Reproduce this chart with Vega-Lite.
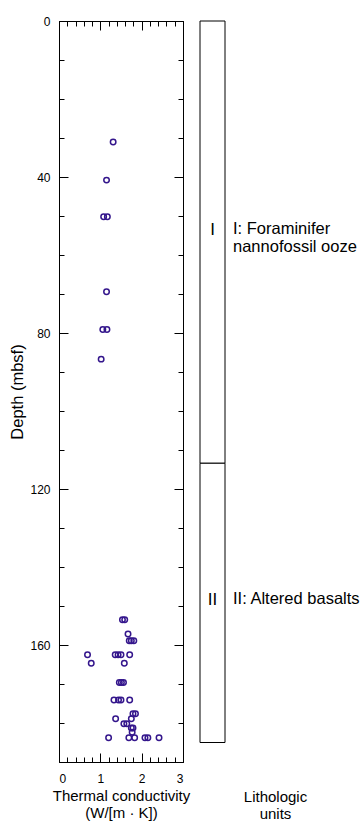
{
  "$schema": "https://vega.github.io/schema/vega-lite/v6.json",
  "padding": {"left": 9, "top": 15, "right": 0, "bottom": 0},
  "background": "white",
  "spacing": 9,
  "config": {
    "view": {"stroke": null},
    "font": "Liberation Sans",
    "axis": {
      "grid": false,
      "domainColor": "#000000",
      "tickColor": "#000000",
      "labelColor": "#000000",
      "titleColor": "#000000",
      "labelFont": "Liberation Sans",
      "titleFont": "Liberation Sans",
      "titleFontWeight": "normal",
      "labelFontSize": 12,
      "titleFontSize": 15,
      "domainWidth": 1,
      "tickWidth": 1
    }
  },
  "datasets": {
    "tc": [
      {"conductivity": 1.31, "depth": 31.0},
      {"conductivity": 1.15, "depth": 40.8},
      {"conductivity": 1.08, "depth": 50.2},
      {"conductivity": 1.17, "depth": 50.2},
      {"conductivity": 1.15, "depth": 69.4},
      {"conductivity": 1.06, "depth": 79.1},
      {"conductivity": 1.16, "depth": 79.1},
      {"conductivity": 1.02, "depth": 86.7},
      {"conductivity": 1.535, "depth": 153.5},
      {"conductivity": 1.59, "depth": 153.5},
      {"conductivity": 1.67, "depth": 157.2},
      {"conductivity": 1.70, "depth": 158.9},
      {"conductivity": 1.75, "depth": 158.9},
      {"conductivity": 1.81, "depth": 158.9},
      {"conductivity": 0.69, "depth": 162.5},
      {"conductivity": 1.36, "depth": 162.5},
      {"conductivity": 1.43, "depth": 162.5},
      {"conductivity": 1.50, "depth": 162.5},
      {"conductivity": 1.71, "depth": 162.5},
      {"conductivity": 0.78, "depth": 164.7},
      {"conductivity": 1.58, "depth": 164.7},
      {"conductivity": 1.46, "depth": 169.6},
      {"conductivity": 1.51, "depth": 169.6},
      {"conductivity": 1.56, "depth": 169.6},
      {"conductivity": 1.33, "depth": 174.1},
      {"conductivity": 1.44, "depth": 174.1},
      {"conductivity": 1.50, "depth": 174.1},
      {"conductivity": 1.71, "depth": 174.1},
      {"conductivity": 1.79, "depth": 177.6},
      {"conductivity": 1.85, "depth": 177.6},
      {"conductivity": 1.37, "depth": 178.9},
      {"conductivity": 1.75, "depth": 178.9},
      {"conductivity": 1.57, "depth": 180.2},
      {"conductivity": 1.64, "depth": 180.2},
      {"conductivity": 1.75, "depth": 181.3},
      {"conductivity": 1.79, "depth": 181.3},
      {"conductivity": 1.77, "depth": 182.4},
      {"conductivity": 1.20, "depth": 183.8},
      {"conductivity": 1.69, "depth": 183.8},
      {"conductivity": 1.83, "depth": 183.8},
      {"conductivity": 2.08, "depth": 183.8},
      {"conductivity": 2.15, "depth": 183.8},
      {"conductivity": 2.42, "depth": 183.8}
    ],
    "lith": [
      {"unit": "I", "top": 0, "bottom": 113.4, "label_depth": 53.6, "label": ["I: Foraminifer", "nannofossil ooze"]},
      {"unit": "II", "top": 113.4, "bottom": 185.0, "label_depth": 148.4, "label": ["II: Altered basalts"]}
    ]
  },
  "hconcat": [
    {
      "width": 124,
      "height": 741,
      "data": {"name": "tc"},
      "resolve": {"axis": {"x": "independent", "y": "independent"}},
      "layer": [
        {
          "mark": {"type": "point", "opacity": 0},
          "encoding": {
            "x": {"field": "conductivity", "type": "quantitative", "scale": {"domain": [0, 3], "nice": false, "zero": false},
              "axis": {"orient": "top", "values": [0, 0.2, 0.4, 0.6, 0.8, 1, 1.2, 1.4, 1.6, 1.8, 2, 2.2, 2.4, 2.6, 2.8, 3], "tickSize": -5, "labels": false, "domain": false, "title": null}},
            "y": {"field": "depth", "type": "quantitative", "scale": {"domain": [0, 190], "nice": false, "reverse": true},
              "axis": {"orient": "right", "values": [0, 10, 20, 30, 40, 50, 60, 70, 80, 90, 100, 110, 120, 130, 140, 150, 160, 170, 180, 190], "tickSize": -5, "labels": false, "domain": false, "title": null}}
          }
        },
        {
          "mark": {"type": "point", "opacity": 0},
          "encoding": {
            "x": {"field": "conductivity", "type": "quantitative",
              "axis": {"orient": "top", "values": [0, 1, 2, 3], "tickSize": -9, "labels": false, "domain": true, "title": null}},
            "y": {"field": "depth", "type": "quantitative",
              "axis": {"orient": "right", "values": [0, 40, 80, 120, 160], "tickSize": -9, "labels": false, "domain": true, "title": null}}
          }
        },
        {
          "mark": {"type": "point", "opacity": 0},
          "encoding": {
            "x": {"field": "conductivity", "type": "quantitative",
              "axis": {"orient": "bottom", "values": [0, 0.2, 0.4, 0.6, 0.8, 1, 1.2, 1.4, 1.6, 1.8, 2, 2.2, 2.4, 2.6, 2.8, 3], "tickSize": -5, "labels": false, "domain": false, "title": null}},
            "y": {"field": "depth", "type": "quantitative",
              "axis": {"orient": "left", "values": [0, 10, 20, 30, 40, 50, 60, 70, 80, 90, 100, 110, 120, 130, 140, 150, 160, 170, 180, 190], "tickSize": -5, "labels": false, "domain": false, "title": null}}
          }
        },
        {
          "mark": {"type": "point", "filled": false, "color": "#34168c", "size": 30, "strokeWidth": 1.5, "opacity": 1},
          "encoding": {
            "x": {"field": "conductivity", "type": "quantitative",
              "axis": {"orient": "bottom", "values": [0, 1, 2, 3], "tickSize": -9, "labelPadding": 20, "domain": true,
                "title": ["Thermal conductivity", "(W/[m · K])"], "titlePadding": 4, "titleLineHeight": 17}},
            "y": {"field": "depth", "type": "quantitative",
              "axis": {"orient": "left", "values": [0, 40, 80, 120, 160], "tickSize": -9, "labelPadding": 18, "domain": true,
                "title": "Depth (mbsf)", "titleFontSize": 16.5, "titlePadding": 4}}
          }
        }
      ]
    },
    {
      "width": 150,
      "height": 741,
      "data": {"name": "lith"},
      "layer": [
        {
          "mark": {"type": "rect", "fill": "white", "stroke": "#000000", "strokeWidth": 1},
          "encoding": {
            "x": {"datum": 0, "type": "quantitative", "scale": {"domain": [0, 6], "nice": false, "zero": false},
              "axis": {"orient": "bottom", "labels": false, "ticks": false, "domain": false, "title": ["Lithologic", "units"], "titlePadding": 27, "titleLineHeight": 17}},
            "x2": {"datum": 1},
            "y": {"field": "top", "type": "quantitative", "scale": {"domain": [0, 190], "nice": false, "reverse": true}, "axis": null},
            "y2": {"field": "bottom"}
          }
        },
        {
          "mark": {"type": "text", "fontSize": 17, "align": "center", "baseline": "middle", "font": "Liberation Sans", "color": "#000000"},
          "encoding": {
            "x": {"datum": 0.5, "type": "quantitative"},
            "y": {"field": "label_depth", "type": "quantitative"},
            "text": {"field": "unit"}
          }
        },
        {
          "mark": {"type": "text", "fontSize": 16.5, "align": "left", "baseline": "top", "dx": 8, "dy": -9, "lineHeight": 18, "font": "Liberation Sans", "color": "#000000"},
          "encoding": {
            "x": {"datum": 1, "type": "quantitative"},
            "y": {"field": "label_depth", "type": "quantitative"},
            "text": {"field": "label"}
          }
        }
      ]
    }
  ]
}
